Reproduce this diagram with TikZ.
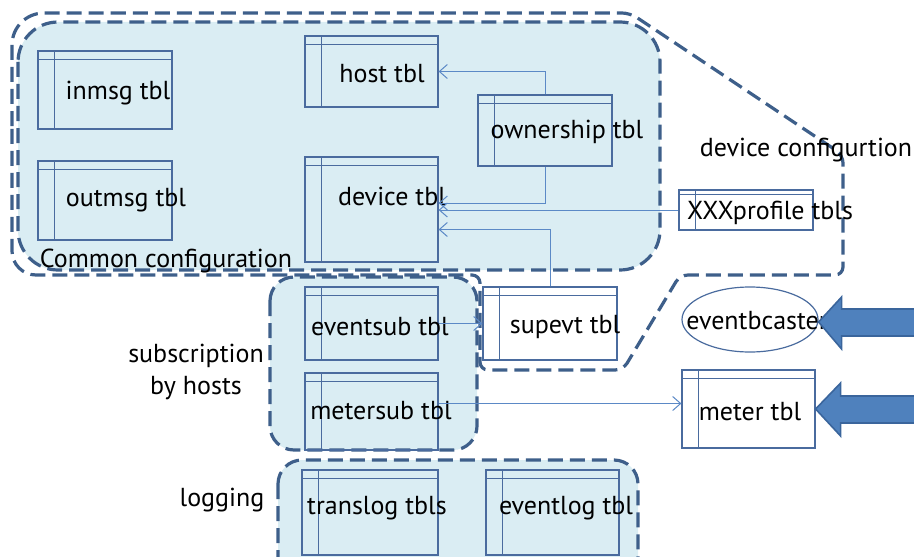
\documentclass[tikz,border=0pt]{standalone}
\usepackage{fontspec}
\setmainfont{PT Sans}
\usepackage{tikz}
\usetikzlibrary{arrows.meta,shapes.geometric,calc}
\definecolor{regionBlue}{HTML}{DAEDF3}
\definecolor{dashBlue}{HTML}{3E5F8A}
\definecolor{tblBlue}{HTML}{4A6B9E}
\definecolor{linkBlue}{HTML}{5B89C6}
\definecolor{bigArrow}{HTML}{4F81BD}
\definecolor{bigArrowEdge}{HTML}{3A659C}

\tikzset{
  tbl/.style={draw=tblBlue, line width=0.6pt, rectangle, inner sep=0pt},
  tblline/.style={draw=tblBlue, line width=0.6pt},
  region/.style={draw=dashBlue, line width=1.6pt, dash pattern=on 7.5pt off 3.5pt},
  link/.style={draw=linkBlue, line width=0.5pt, -{Straight Barb[length=4pt,width=7pt]}},
  txt/.style={font=\fontsize{13}{16}\selectfont, inner sep=0pt},
  blockarr/.style={fill=bigArrow, draw=bigArrowEdge, line width=0.8pt},
}

\begin{document}
\begin{tikzpicture}[x=0.5pt, y=-0.5pt]
  \useasboundingbox (0,0) rectangle (914,556);

  % shaded groups
  \fill[regionBlue, rounded corners=20pt] (18,22) rectangle (660,270);
  \fill[regionBlue, rounded corners=12pt] (270,277) rectangle (477,450);
  \fill[regionBlue, rounded corners=12pt] (278,460) rectangle (638,600);

  % dashed outlines
  \draw[region, rounded corners=20pt] (18,22) rectangle (660,270);
  \draw[region, rounded corners=12pt] (270,277) rectangle (477,450);
  \draw[region, rounded corners=12pt] (278,460) rectangle (638,600);
  \draw[region] (12,150) [rounded corners=16pt]-- (12,13) [rounded corners=4pt]-- (630,13)
    -- (843,155) -- (843,275) -- (680,275) -- (623,370) -- (480,370) -- (480,275)
    [rounded corners=12pt]-- (12,275) -- cycle;

  % tables
  \node[tbl, minimum width=67pt, minimum height=39pt] (inmsg) at (105,90) {};
  \node[tbl, minimum width=67pt, minimum height=39.5pt] (outmsg) at (105,200.5) {};
  \node[tbl, minimum width=66.5pt, minimum height=35.5pt] (host) at (371.5,71.5) {};
  \node[tbl, minimum width=66.5pt, minimum height=52.5pt] (device) at (371.5,209.5) {};
  \node[tbl, minimum width=67pt, minimum height=35.5pt] (ownership) at (545,130.5) {};
  \node[tbl, minimum width=67pt, minimum height=20pt] (xxx) at (746,210) {};
  \node[tbl, minimum width=66.5pt, minimum height=36.5pt] (eventsub) at (371.5,323.5) {};
  \node[tbl, minimum width=66.5pt, minimum height=38.5pt] (metersub) at (371.5,411.5) {};
  \node[tbl, minimum width=67pt, minimum height=36.5pt] (supevt) at (550,323.5) {};
  \node[tbl, minimum width=66.5pt, minimum height=39pt] (meter) at (748.5,409) {};
  \node[tbl, minimum width=68pt, minimum height=42.5pt] (translog) at (370,512.5) {};
  \node[tbl, minimum width=66.5pt, minimum height=42.5pt] (eventlog) at (552.5,512.5) {};
  \node[ellipse, draw=tblBlue, line width=0.6pt, inner sep=0pt,
        minimum width=68pt, minimum height=32.5pt] (bcaster) at (750,319.5) {};

  % header row and key column of each table
  \foreach \t in {inmsg,outmsg,host,device,ownership,eventsub,metersub,supevt,meter,translog,eventlog} {
    \draw[tblline] ([xshift=8.5pt]\t.north west) -- ([xshift=8.5pt]\t.south west);
    \draw[tblline] ([yshift=-4.5pt]\t.north west) -- ([yshift=-4.5pt]\t.north east);
  }
  \draw[tblline] ([xshift=8.5pt]xxx.north west) -- ([xshift=8.5pt]xxx.south west);
  \draw[tblline] ([yshift=-2.5pt]xxx.north west) -- ([yshift=-2.5pt]xxx.north east);

  % table names
  \node[txt] (inmsgT) at (118,93) {inmsg tbl};
  \node[txt] (outmsgT) at (126,200) {outmsg tbl};
  \node[txt] (hostT) at (382,74) {host tbl};
  \node[txt] (deviceT) at (392,196) {device tbl};
  \node[txt] (ownershipT) at (567,132) {ownership tbl};
  \node[txt] (xxxT) at (770,213) {XXXprofile tbls};
  \node[txt] (eventsubT) at (380,327) {eventsub tbl};
  \node[txt] (metersubT) at (381,411) {metersub tbl};
  \node[txt] (supevtT) at (565,327) {supevt tbl};
  \node[txt] (meterT) at (750,412) {meter tbl};
  \node[txt] (translogT) at (377,508) {translog tbls};
  \node[txt] (eventlogT) at (566,508) {eventlog tbl};
  \node[txt] (bcasterT) at (757,321) {eventbcaster};

  % group names
  \node[txt] (commonL) at (166,261) {Common configuration};
  \node[txt] (devconfL) at (806,150) {device configurtion};
  \node[txt, align=center] (subL) at (196,372) {subscription\\by hosts};
  \node[txt] (logL) at (222,500) {logging};

  % references
  \draw[link] (ownership.north) |- (host.east);
  \draw[link] (ownership.south) |- ([yshift=3.25pt]device.east);
  \draw[link] (xxx.west) -- (xxx.west -| device.east);
  \draw[link] (supevt.north) |- ([yshift=-10pt]device.east);
  \draw[link] (eventsub.east) -- (supevt.west);
  \draw[link] ([yshift=4pt]metersub.east) -- ([yshift=4pt]metersub.east -| meter.west);

  % incoming feeds
  \filldraw[blockarr] ([yshift=-1.25pt]bcaster.east) -- ++(23,-25) -- ++(0,12) -- ++(90,0)
    -- ++(0,27) -- ++(-90,0) -- ++(0,13) -- cycle;
  \filldraw[blockarr] (meter.east) -- ++(25,-26) -- ++(0,13) -- ++(90,0)
    -- ++(0,27) -- ++(-90,0) -- ++(0,13) -- cycle;
\end{tikzpicture}
\end{document}
